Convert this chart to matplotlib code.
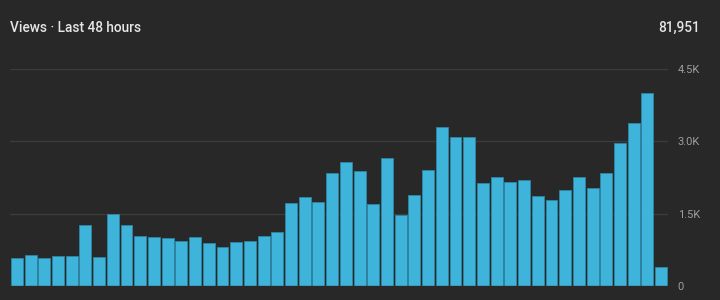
import numpy as np
import matplotlib
matplotlib.use('Agg')
import matplotlib.pyplot as plt

# hourly views, last 48 hours
hours = np.arange(48)
views = [576, 653, 576, 632, 632, 1257, 611, 1486, 1257, 1028,
         1007, 986, 938, 1007, 896, 819, 917, 938, 1028, 1125,
         1729, 1847, 1750, 2340, 2563, 2375, 1694, 2660, 1472, 1882,
         2396, 3306, 3097, 3097, 2132, 2264, 2167, 2188, 1868, 1792,
         2000, 2264, 2035, 2340, 2965, 3382, 4007, 389]
yticks = [0, 1500, 3000, 4500]
ylabels = ['0', '1.5K', '3.0K', '4.5K']
title = 'Views · Last 48 hours'
total = '81,951'

bg = '#282828'
plt.rcParams['font.family'] = ['Roboto', 'DejaVu Sans']

fig = plt.figure(figsize=(7.2, 3.0), dpi=100, facecolor=bg)
ax = fig.add_axes([10 / 720, 14 / 300, 658 / 720, 217 / 300], facecolor=bg)

ax.bar(hours, views, width=0.87, color='#3fb4da', edgecolor='#2e86a6', linewidth=0.6, zorder=3)
ax.set_xlim(-0.5, 47.5)
ax.set_ylim(0, 4500)

ax.yaxis.tick_right()
ax.set_yticks(yticks)
ax.set_yticklabels(ylabels)
ax.tick_params(axis='y', length=0, pad=7, labelsize=8, labelcolor='#9e9e9e')
ax.set_xticks([])
ax.grid(axis='y', color='#3c3c3c', linewidth=1, zorder=0)
for s in ax.spines.values():
    s.set_visible(False)
ax.axhline(0, color='#3c3c3c', linewidth=1, zorder=4)

fig.text(10 / 720, 1 - 28 / 300, title, color='#e6e6e6', fontsize=9.8,
         fontweight='medium', ha='left', va='center')
fig.text(700 / 720, 1 - 28 / 300, total, color='#e6e6e6', fontsize=9.8,
         fontweight='medium', ha='right', va='center')

fig.savefig('out.png', dpi=100, facecolor=bg)
